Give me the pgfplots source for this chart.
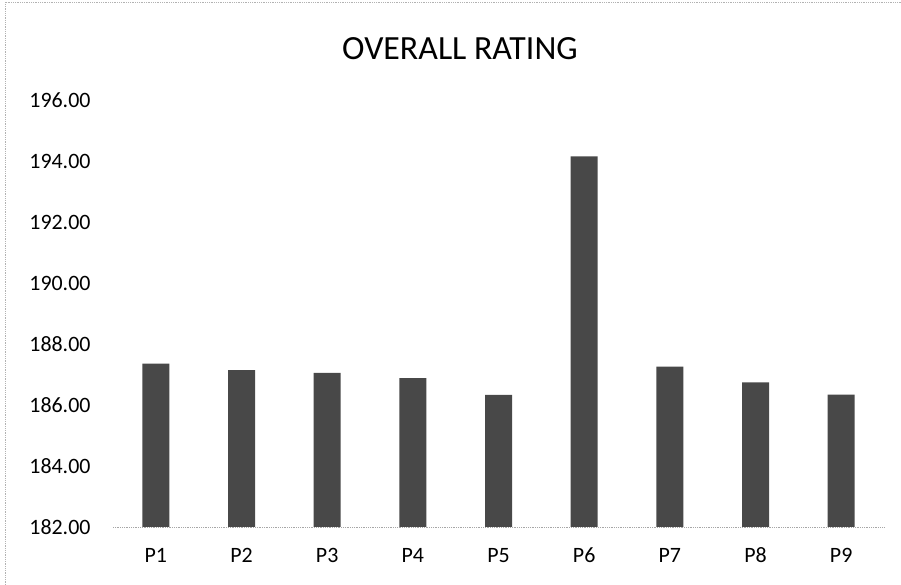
\documentclass[border=0pt]{standalone}
\usepackage{fontspec}
\setmainfont{Carlito}
\usepackage{pgfplots}
\pgfplotsset{compat=1.18}
\definecolor{barcol}{HTML}{484848}
\begin{document}
\begin{tikzpicture}[x=1bp,y=1bp]
\path[use as bounding box] (0,0) rectangle (901,585);
\draw[gray!60, densely dotted, line width=0.8bp] (5,0) -- (5,583) -- (901,583);
\begin{axis}[
  at={(113bp,58bp)}, anchor=south west,
  scale only axis, width=771bp, height=427bp,
  ymin=182, ymax=196, xmin=-0.5, xmax=8.5,
  ytick={182,184,...,196},
  xtick={0,...,8},
  xticklabels={P1,P2,P3,P4,P5,P6,P7,P8,P9},
  axis x line*=bottom,
  axis y line*=left,
  y axis line style={draw=none},
  x axis line style={gray!70, densely dotted, line width=0.8bp, -},
  major tick length=0pt,
  tick style={draw=none},
  ticklabel style={font=\fontsize{22}{26}\selectfont},
  yticklabel style={xshift=-19bp, /pgf/number format/fixed, /pgf/number format/fixed zerofill, /pgf/number format/precision=2, /pgf/number format/assume math mode=true},
  xticklabel style={anchor=base, yshift=-36bp},
]
\addplot[ybar, bar width=27bp, fill=barcol, draw=none] coordinates {
(0,187.36) (1,187.14) (2,187.05) (3,186.88) (4,186.33) (5,194.15) (6,187.26) (7,186.74) (8,186.34)
};
\end{axis}
\node[font=\fontsize{34}{40}\selectfont] at (460,536) {OVERALL RATING};
\end{tikzpicture}
\end{document}
